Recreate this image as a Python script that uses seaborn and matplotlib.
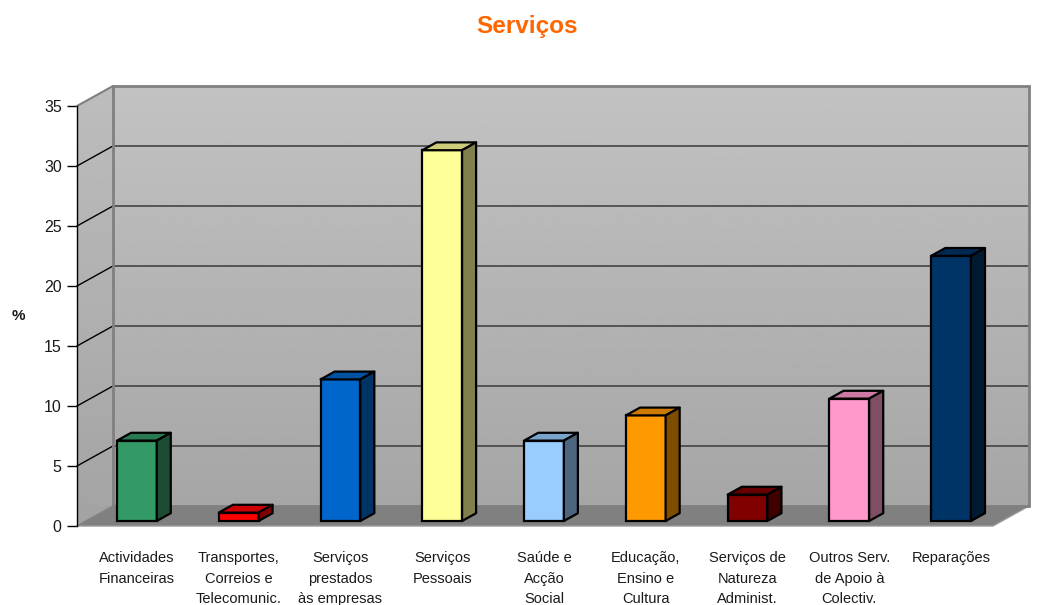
import numpy as np
import matplotlib
matplotlib.use("Agg")
import matplotlib.pyplot as plt
import seaborn as sns
from matplotlib.patches import Polygon, Rectangle
from matplotlib.colors import to_rgb

# ---------------- data ----------------
categories = [
    "Actividades\nFinanceiras",
    "Transportes,\nCorreios e\nTelecomunic.",
    "Serviços\nprestados\nàs empresas",
    "Serviços\nPessoais",
    "Saúde e\nAcção\nSocial",
    "Educação,\nEnsino e\nCultura",
    "Serviços de\nNatureza\nAdminist.",
    "Outros Serv.\nde Apoio à\nColectiv.",
    "Reparações",
]
values = [6.7, 0.7, 11.8, 30.9, 6.7, 8.8, 2.2, 10.2, 22.1]
bar_colors = ["#339966", "#FF0000", "#0066CC", "#FFFF99", "#99CCFF",
              "#FF9900", "#800000", "#FF99CC", "#003366"]
y_ticks = [0, 5, 10, 15, 20, 25, 30, 35]
title = "Serviços"
y_label = "%"

# ---------------- style ----------------
sns.set_theme(style="white")
plt.rcParams['font.family'] = ['Liberation Sans', 'DejaVu Sans']

W, H = 1046, 605
fig = plt.figure(figsize=(W / 100, H / 100), dpi=100)
# front plane of the 3-D box (pixels): x 77..993, y 526 (0) .. 106 (35)
ax = fig.add_axes([77 / W, (H - 526) / H, 916 / W, 420 / H])

n = len(values)
ymax = y_ticks[-1]

sns.barplot(x=categories, y=values, hue=categories, palette=bar_colors,
            legend=False, width=0.39, saturation=1, edgecolor="black",
            linewidth=1.6, ax=ax, zorder=5)
bars = list(ax.patches)

ax.set_xlim(-0.5, n - 0.5)
ax.set_ylim(0, ymax)

# depth of the 3-D box, converted from pixels to data units
px_x = 916 / n
px_y = 420 / ymax
DX = 36 / px_x
DY = 20 / px_y
FX, FY = 0.25 * DX, 0.25 * DY      # bar front face depth
BX, BY = 0.39 * DX, 0.39 * DY      # bar depth

x_left, x_right = -0.5, n - 0.5

# ---------------- walls ----------------
grad = np.linspace(0.65, 0.76, 256).reshape(-1, 1)
back = ax.imshow(grad, cmap="gray", vmin=0, vmax=1, aspect="auto",
                 extent=[x_left + DX, x_right + DX, DY, ymax + DY],
                 origin="lower", zorder=0, clip_on=False)
side_poly = Polygon([(x_left, 0), (x_left + DX, DY), (x_left + DX, ymax + DY),
                     (x_left, ymax)], closed=True, facecolor="none",
                    edgecolor="none", transform=ax.transData, clip_on=False)
ax.add_patch(side_poly)
side_grad = np.linspace(0.64, 0.74, 256).reshape(-1, 1)
side = ax.imshow(side_grad, cmap="gray", vmin=0, vmax=1, aspect="auto",
                 extent=[x_left, x_left + DX, 0, ymax + DY],
                 origin="lower", zorder=0)
side.set_clip_box(fig.bbox)
side.set_clip_path(side_poly)

floor = Polygon([(x_left, 0), (x_right, 0), (x_right + DX, DY), (x_left + DX, DY)],
                closed=True, facecolor="#808080", edgecolor="#9a9a9a",
                linewidth=1, zorder=1, clip_on=False)
ax.add_patch(floor)

# gridlines on back wall and side wall
for t in y_ticks[1:-1]:
    ax.plot([x_left + DX, x_right + DX], [t + DY, t + DY], color="#3a3a3a",
            lw=1.1, zorder=2, clip_on=False)
    ax.plot([x_left, x_left + DX], [t, t + DY], color="black", lw=1,
            zorder=2, clip_on=False)

# wall borders
ax.add_patch(Rectangle((x_left + DX, DY), x_right - x_left, ymax,
                       fill=False, edgecolor="#808080", linewidth=2,
                       zorder=2, clip_on=False))
ax.plot([x_left, x_left + DX], [ymax, ymax + DY], color="#808080", lw=1.5,
        zorder=2, clip_on=False)
ax.plot([x_left, x_left + DX], [0, DY], color="#808080", lw=1,
        zorder=2, clip_on=False)

ax.set_xlim(x_left, x_right)
ax.set_ylim(0, ymax)

# ---------------- 3-D bars ----------------
for p, c in zip(bars, bar_colors):
    x0 = p.get_x() + FX
    w = p.get_width()
    h = p.get_height()
    p.set_x(x0)
    p.set_y(FY)
    rgb = np.array(to_rgb(c))
    top = Polygon([(x0, FY + h), (x0 + w, FY + h), (x0 + w + BX, FY + h + BY),
                   (x0 + BX, FY + h + BY)], closed=True, facecolor=rgb * 0.8,
                  edgecolor="black", linewidth=1.6, zorder=5, joinstyle="round")
    sidef = Polygon([(x0 + w, FY), (x0 + w + BX, FY + BY),
                     (x0 + w + BX, FY + h + BY), (x0 + w, FY + h)], closed=True,
                    facecolor=rgb * 0.5, edgecolor="black", linewidth=1.6,
                    zorder=5, joinstyle="round")
    ax.add_patch(top)
    ax.add_patch(sidef)

# ---------------- axes / text ----------------
for s in ["top", "right", "bottom"]:
    ax.spines[s].set_visible(False)
ax.spines["left"].set_color("black")
ax.spines["left"].set_linewidth(1)
ax.spines["left"].set_zorder(3)

ax.set_yticks(y_ticks)
ax.set_yticklabels([str(t) for t in y_ticks])
ax.tick_params(axis="y", direction="out", length=7, width=1, color="black",
               labelsize=11.5, pad=4, labelcolor="#1a1a1a", left=True)
ax.set_xticks(np.arange(n) + FX)
ax.set_xticklabels(categories, fontsize=10.5, color="#1a1a1a", linespacing=1.6)
ax.tick_params(axis="x", length=0, pad=18)
ax.set_xlabel("")
ax.set_ylabel(y_label, rotation=0, fontweight="bold", fontsize=11,
              color="#1a1a1a", va="center", ha="center")
ax.yaxis.set_label_coords((18 - 77) / 916, (526 - 316) / 420)
ax.patch.set_visible(False)

fig.text(527 / W, 1 - 27 / H, title, ha="center", va="center",
         fontsize=17.5, fontweight="bold", color="#FF6600")

fig.savefig("out.png", dpi=100, facecolor="white")
